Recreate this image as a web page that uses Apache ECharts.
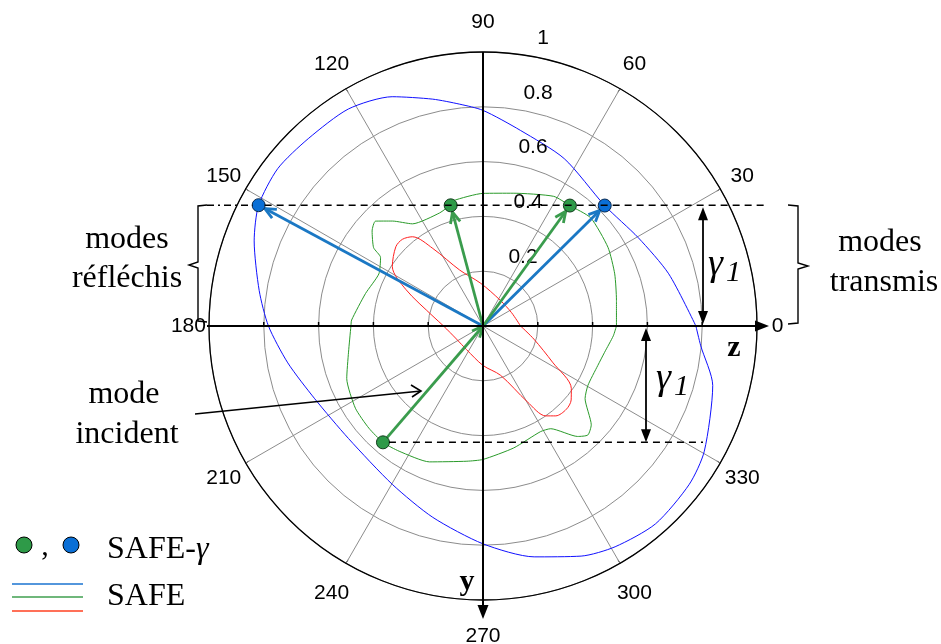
<!DOCTYPE html>
<html>
<head>
<meta charset="utf-8">
<script src="https://cdn.jsdelivr.net/npm/echarts@6/dist/echarts.min.js"></script>
<style>
html,body{margin:0;padding:0;background:#fff;}
#chart{width:941px;height:644px;}
</style>
</head>
<body>
<div id="chart"></div>
<script>
// ---------- DATA (angle in degrees, radius) ----------
const angleTicks = [0, 30, 60, 90, 120, 150, 180, 210, 240, 270, 300, 330];
const radiusTicks = [0.2, 0.4, 0.6, 0.8, 1];

// SAFE curves: [angle, radius]
const safeBlue = [
  [0, 0.777], [15.7, 0.704], [29.6, 0.652], [44.7, 0.625], [64.1, 0.679], [79.2, 0.727],
  [90, 0.787], [96, 0.814], [102.5, 0.848], [111.6, 0.90], [121.8, 0.932], [133, 0.935],
  [142.5, 0.944], [151.7, 0.930], [159.6, 0.891], [171, 0.827], [180, 0.783], [190.7, 0.725],
  [203.4, 0.669], [219.9, 0.640], [240.2, 0.666], [255.3, 0.722], [270, 0.795], [282.5, 0.863],
  [293.1, 0.913], [300.9, 0.939], [311.1, 0.958], [322.5, 0.949], [330.5, 0.928], [345.5, 0.866],
  [354.8, 0.798], [360, 0.777]
];
const safeGreen = [
  [0, 0.487], [10.9, 0.496], [21.6, 0.517], [32.2, 0.539], [45.1, 0.557], [54.2, 0.542],
  [61.4, 0.539], [77.2, 0.497], [90, 0.484], [103.4, 0.47], [105, 0.458], [111, 0.442],
  [124.6, 0.453], [130.8, 0.506], [135.7, 0.548], [139.4, 0.533], [144.4, 0.491], [146.2, 0.45],
  [153.4, 0.425], [164.6, 0.445], [177.4, 0.48], [180, 0.482], [191, 0.50], [201.1, 0.533],
  [212.8, 0.554], [221.8, 0.559], [229.4, 0.56], [236.2, 0.55], [248.5, 0.533], [263.2, 0.497],
  [270, 0.487], [284.1, 0.459], [298.6, 0.439], [303.4, 0.449], [310.6, 0.531], [313.9, 0.552],
  [317.6, 0.535], [324.6, 0.457], [330.5, 0.44], [341, 0.443], [347.8, 0.454], [355.7, 0.477],
  [360, 0.487]
];
const safeRed = [
  [0, 0.137], [25, 0.115], [56, 0.113], [93, 0.156], [112.6, 0.221], [122.9, 0.337],
  [128.3, 0.415], [132.9, 0.432], [137.7, 0.43], [146.7, 0.396], [154.7, 0.311], [169, 0.186],
  [180, 0.144], [206, 0.108], [235, 0.105], [270, 0.144], [289.6, 0.191], [300.3, 0.32],
  [304.9, 0.40], [309, 0.422], [315, 0.43], [320, 0.42], [324.7, 0.395], [332.5, 0.286],
  [345.5, 0.192], [360, 0.137]
];

// SAFE-gamma modes: [angle, radius]
const gammaGreen = [[54.2, 0.542], [105, 0.456], [229.3, 0.56]];
const gammaBlue = [[44.7, 0.625], [151.7, 0.930]];
// arrows: [toAngle, toRadius, fromAngle, fromRadius]
const modeArrows = [
  [44.7, 0.625, 0, 0],
  [151.7, 0.930, 0, 0],
  [54.2, 0.542, 0, 0],
  [105, 0.456, 0, 0],
  [0, 0, 229.3, 0.56]
];

// ---------- STYLE / LAYOUT ----------
const CX = 483, CY = 326, R = 274;
const arrowColors = ['#1b78c4', '#1b78c4', '#3a9c4d', '#3a9c4d', '#3a9c4d'];
const arrowShrink = [7, 7, 7, 7, 0];
const toPolar = arr => arr.map(d => [d[1], d[0]]);
const labelRadius = a => 1.075 + 0.035 * Math.abs(Math.sin(a * Math.PI / 180));
const labelDrop = a => Math.max(0, -Math.sin(a * Math.PI / 180)) * 6;
const numFont = '21px Liberation Sans';

const chart = echarts.init(document.getElementById('chart'), null, {renderer: 'canvas'});

const option = {
  backgroundColor: '#fff',
  animation: false,
  polar: {center: [CX, CY], radius: R},
  angleAxis: {
    type: 'value', min: 0, max: 360, interval: 30, startAngle: 0, clockwise: false,
    axisLine: {lineStyle: {color: '#000', width: 1.3}},
    axisTick: {show: true, inside: true, length: 4, lineStyle: {color: '#000'}},
    axisLabel: {show: false},
    splitLine: {show: true, lineStyle: {color: '#8c8c8c', width: 1}}
  },
  radiusAxis: {
    type: 'value', min: 0, max: 1, interval: 0.2,
    axisLine: {show: false}, axisTick: {show: false}, axisLabel: {show: false},
    splitLine: {show: true, lineStyle: {color: '#8c8c8c', width: 1}}
  },
  series: [
    {type: 'line', coordinateSystem: 'polar', data: toPolar(safeBlue), showSymbol: false, smooth: 0.25,
      lineStyle: {color: '#1010ff', width: 1}, z: 3},
    {type: 'line', coordinateSystem: 'polar', data: toPolar(safeGreen), showSymbol: false, smooth: 0.2,
      lineStyle: {color: '#2a9a2a', width: 1}, z: 3},
    {type: 'line', coordinateSystem: 'polar', data: toPolar(safeRed), showSymbol: false, smooth: 0.3,
      lineStyle: {color: '#ff2020', width: 1}, z: 3},
    {
      type: 'custom', coordinateSystem: 'polar', z: 5,
      data: modeArrows.map(a => [a[1], a[0], a[3], a[2]]),
      encode: {radius: 0, angle: 1},
      renderItem: function (params, api) {
        const i = params.dataIndex;
        const to = api.coord([api.value(0), api.value(1)]);
        const from = api.coord([api.value(2), api.value(3)]);
        const dx = to[0] - from[0], dy = to[1] - from[1];
        const len = Math.sqrt(dx * dx + dy * dy);
        const ux = dx / len, uy = dy / len;
        const s = arrowShrink[i];
        const tip = [to[0] - ux * s, to[1] - uy * s];
        const L = 11, W = 5;
        const b = [tip[0] - ux * L, tip[1] - uy * L];
        const l = [b[0] - uy * W, b[1] + ux * W];
        const r = [b[0] + uy * W, b[1] - ux * W];
        const c = arrowColors[i];
        return {
          type: 'group',
          children: [
            {type: 'line', shape: {x1: from[0], y1: from[1], x2: tip[0], y2: tip[1]},
              style: {stroke: c, lineWidth: 2.8}},
            {type: 'polyline', shape: {points: [l, tip, r]},
              style: {stroke: c, lineWidth: 2.8, fill: null}}
          ]
        };
      }
    },
    {id: 'dotsGreen', type: 'scatter', coordinateSystem: 'polar', data: toPolar(gammaGreen), symbolSize: 13,
      itemStyle: {color: '#2e9a48', borderColor: '#153d1f', borderWidth: 1, opacity: 1}, z: 6},
    {id: 'dotsBlue', type: 'scatter', coordinateSystem: 'polar', data: toPolar(gammaBlue), symbolSize: 13,
      itemStyle: {color: '#0a6fd6', borderColor: '#0a2a50', borderWidth: 1, opacity: 1}, z: 6},
    {
      // radius tick labels
      type: 'custom', coordinateSystem: 'polar', z: 4, silent: true,
      data: radiusTicks.map(v => [v, 90]),
      encode: {radius: 0, angle: 1},
      renderItem: function (params, api) {
        const v = api.value(0);
        const p = api.coord([v, 90]);
        return {type: 'text', x: p[0] + 35 + 25 * v, y: p[1] - 14,
          style: {text: String(radiusTicks[params.dataIndex]), font: numFont, fill: '#000', align: 'center', verticalAlign: 'middle'}};
      }
    },
    {
      // angle tick labels
      type: 'custom', coordinateSystem: 'polar', z: 4, silent: true,
      data: angleTicks.map(a => [1, a]),
      encode: {radius: 0, angle: 1},
      renderItem: function (params, api) {
        const a = api.value(1);
        const c = api.coord([0, 0]);
        const p = api.coord([1, a]);
        const k = labelRadius(a);
        return {type: 'text', x: c[0] + (p[0] - c[0]) * k, y: c[1] + (p[1] - c[1]) * k + labelDrop(a),
          style: {text: String(angleTicks[params.dataIndex]), font: numFont, fill: '#000', align: 'center', verticalAlign: 'middle'}};
      }
    }
  ]
};
chart.setOption(option);

// ---------- ANNOTATIONS ----------
const pB = chart.convertToPixel({seriesId: 'dotsBlue'}, [gammaBlue[1][1], gammaBlue[1][0]]);
const pInc = chart.convertToPixel({seriesId: 'dotsGreen'}, [gammaGreen[2][1], gammaGreen[2][0]]);
const yTop = pB[1], yBot = pInc[1];
const serif = 'Liberation Serif';
const g = [];
const blk = {stroke: '#000', lineWidth: 1.6};
// axes
g.push({type: 'line', shape: {x1: 207, y1: CY, x2: 758, y2: CY}, style: {stroke: '#000', lineWidth: 2}});
g.push({type: 'polygon', shape: {points: [[769, CY], [755, CY - 5.5], [755, CY + 5.5]]}, style: {fill: '#000'}});
g.push({type: 'line', shape: {x1: CX, y1: CY - R, x2: CX, y2: CY + R + 8}, style: {stroke: '#000', lineWidth: 2}});
g.push({type: 'polygon', shape: {points: [[CX, 619], [CX - 5.5, 605], [CX + 5.5, 605]]}, style: {fill: '#000'}});
[0.2, 0.4, 0.6, 0.8].forEach(v => {
  g.push({type: 'line', shape: {x1: CX + v * R, y1: CY, x2: CX + v * R, y2: CY - 4}, style: {stroke: '#000', lineWidth: 1.5}});
  g.push({type: 'line', shape: {x1: CX - v * R, y1: CY, x2: CX - v * R, y2: CY - 4}, style: {stroke: '#000', lineWidth: 1.5}});
});
// guide lines
g.push({type: 'line', shape: {x1: 207, y1: yTop, x2: pB[0] - 6, y2: yTop}, style: {stroke: '#000', lineWidth: 1.5, lineDash: [7, 4, 2, 4]}});
g.push({type: 'line', shape: {x1: pB[0] + 6, y1: yTop, x2: 767, y2: yTop}, style: {stroke: '#000', lineWidth: 1.5, lineDash: [7, 5]}});
g.push({type: 'line', shape: {x1: pInc[0] + 6, y1: yBot, x2: 703, y2: yBot}, style: {stroke: '#000', lineWidth: 1.5, lineDash: [7, 5]}});
// gamma arrows
function dblArrow(x, y1, y2) {
  g.push({type: 'line', shape: {x1: x, y1: y1 + 10, x2: x, y2: y2 - 10}, style: {stroke: '#000', lineWidth: 1.8}});
  g.push({type: 'polygon', shape: {points: [[x, y1], [x - 5, y1 + 13], [x + 5, y1 + 13]]}, style: {fill: '#000'}});
  g.push({type: 'polygon', shape: {points: [[x, y2], [x - 5, y2 - 13], [x + 5, y2 - 13]]}, style: {fill: '#000'}});
}
dblArrow(703, yTop + 2, CY - 2);
dblArrow(646, CY + 2, yBot);
function gamma(x, y) {
  g.push({type: 'text', x: x, y: y, style: {text: 'γ', font: 'italic 38px ' + serif, fill: '#000', verticalAlign: 'middle'}});
  g.push({type: 'text', x: x + 18, y: y + 8, style: {text: '1', font: 'italic 30px ' + serif, fill: '#000', verticalAlign: 'middle'}});
}
gamma(708, 265);
gamma(656, 379);
// brackets
g.push({type: 'polyline', shape: {points: [[207, 205], [198, 206], [198, 262], [189, 265], [198, 268], [198, 321], [207, 322]]}, style: {stroke: '#000', lineWidth: 1.4, fill: null}});
g.push({type: 'polyline', shape: {points: [[788, 205], [798, 206], [798, 263], [808, 266], [798, 269], [798, 323], [788, 324]]}, style: {stroke: '#000', lineWidth: 1.4, fill: null}});
// texts
function txt(t, x, y, font, align) {
  g.push({type: 'text', x: x, y: y, style: {text: t, font: font, fill: '#000', align: align || 'center', verticalAlign: 'middle'}});
}
txt('modes', 127, 240, '32px ' + serif);
txt('réfléchis', 127, 279, '32px ' + serif);
txt('modes', 880, 243, '32px ' + serif);
txt('transmis', 884, 283, '32px ' + serif);
txt('mode', 124, 395, '32px ' + serif);
txt('incident', 127, 435, '32px ' + serif);
txt('z', 734, 348, 'bold 30px ' + serif);
txt('y', 467, 582, 'bold 30px ' + serif);
// incident pointer
g.push({type: 'line', shape: {x1: 195, y1: 414, x2: 421, y2: 391}, style: blk});
g.push({type: 'polyline', shape: {points: [[411, 385], [421, 391], [412, 397]]}, style: {stroke: '#000', lineWidth: 1.6, fill: null}});
// legend
g.push({type: 'circle', shape: {cx: 24, cy: 545, r: 8}, style: {fill: '#2e9a48', stroke: '#000', lineWidth: 1}});
g.push({type: 'circle', shape: {cx: 71, cy: 545, r: 8}, style: {fill: '#0a6fd6', stroke: '#000', lineWidth: 1}});
txt(',', 45, 547, '30px ' + serif);
g.push({type: 'text', x: 107, y: 550, style: {text: '{a|SAFE-}{b|γ}', fill: '#000', verticalAlign: 'middle',
  rich: {a: {font: '32px ' + serif, fill: '#000'}, b: {font: 'italic 32px ' + serif, fill: '#000'}}}});
g.push({type: 'line', shape: {x1: 12, y1: 584, x2: 83, y2: 584}, style: {stroke: '#1a73d0', lineWidth: 1.5}});
g.push({type: 'line', shape: {x1: 12, y1: 597, x2: 83, y2: 597}, style: {stroke: '#3f9f4f', lineWidth: 1.5}});
g.push({type: 'line', shape: {x1: 12, y1: 611, x2: 83, y2: 611}, style: {stroke: '#ff4020', lineWidth: 1.5}});
txt('SAFE', 107, 597, '32px ' + serif, 'left');

chart.setOption({graphic: g.map(e => Object.assign({z: 100}, e))});
</script>
</body>
</html>
